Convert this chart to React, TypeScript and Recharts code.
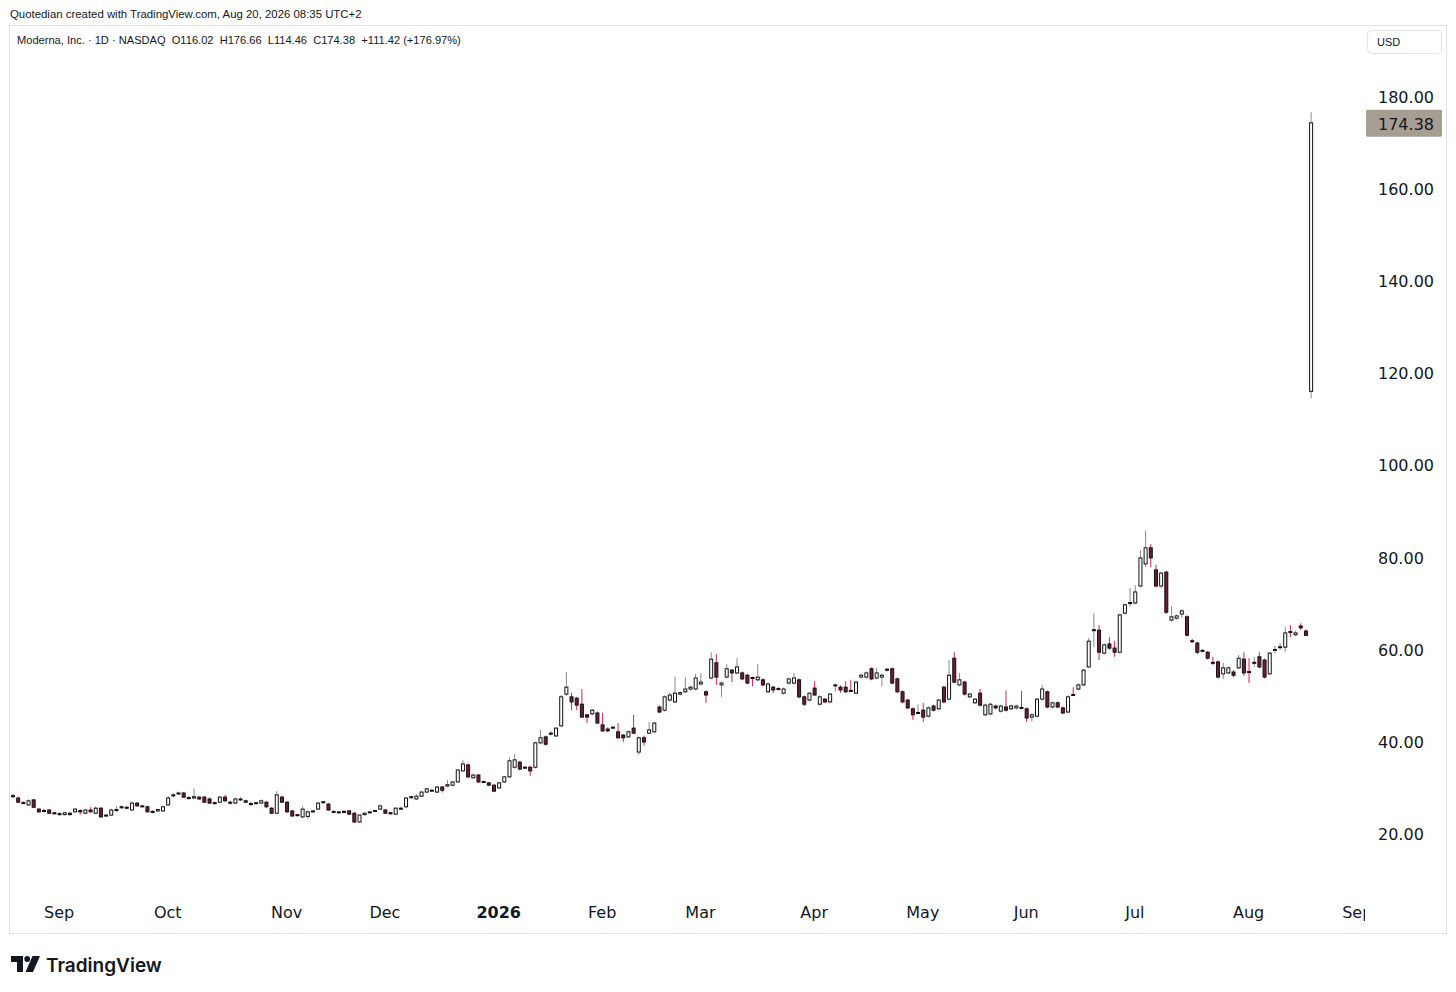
import React from 'react';
import { BarChart, Bar, XAxis, YAxis } from 'recharts';

// ---------- data ----------
const opens = [
  28.1, 27.6, 26.6, 26.1, 27.2, 25.2, 24.9, 25.0, 24.4, 24.2,
  24.0, 24.3, 24.6, 24.9, 24.3, 25.0, 24.3, 25.4, 23.8, 23.9,
  24.9, 25.5, 25.6, 25.0, 26.5, 25.9, 25.7, 24.7, 24.8, 24.8,
  26.1, 28.1, 28.5, 28.7, 27.7, 27.6, 27.8, 27.8, 27.4, 26.6,
  26.7, 27.8, 26.7, 26.5, 27.3, 27.0, 26.4, 26.4, 26.5, 26.7,
  25.4, 24.3, 27.8, 26.7, 24.8, 23.8, 23.5, 23.6, 24.7, 25.2,
  26.6, 26.3, 24.7, 24.5, 24.7, 24.8, 24.3, 22.4, 24.0, 24.4,
  24.7, 25.2, 25.0, 24.4, 24.1, 25.3, 25.7, 27.7, 27.4, 28.0,
  28.9, 29.2, 28.9, 30.0, 30.2, 30.4, 31.1, 33.5, 34.8, 32.0,
  32.6, 31.2, 30.9, 30.4, 29.8, 31.1, 32.2, 34.3, 35.4, 34.2,
  34.3, 34.3, 39.6, 40.9, 41.5, 41.1, 43.3, 50.2, 49.6, 49.3,
  48.0, 45.7, 45.9, 46.1, 43.5, 42.6, 42.9, 42.0, 41.3, 40.9,
  42.8, 37.6, 40.7, 41.7, 42.0, 47.4, 46.7, 48.9, 48.5, 50.2,
  50.7, 51.3, 51.3, 52.4, 50.7, 53.7, 57.0, 52.2, 53.9, 55.4,
  54.8, 54.8, 54.3, 53.8, 53.3, 53.3, 50.7, 51.7, 51.4, 50.4,
  52.6, 52.6, 53.3, 49.6, 48.9, 51.5, 48.0, 49.1, 48.5, 52.1,
  51.7, 51.7, 51.0, 50.4, 53.9, 53.9, 55.7, 53.7, 53.9, 55.4,
  55.7, 53.5, 50.7, 48.9, 47.0, 46.0, 46.7, 45.4, 47.6, 47.0,
  51.7, 49.1, 58.0, 52.2, 52.8, 49.6, 48.3, 50.4, 45.7, 45.9,
  47.6, 46.5, 47.4, 47.0, 47.2, 47.3, 47.0, 45.2, 45.4, 49.1,
  50.7, 47.4, 48.3, 47.2, 46.3, 50.1, 51.3, 52.2, 56.1, 64.0,
  64.1, 59.1, 61.1, 60.2, 59.3, 67.8, 69.9, 70.0, 73.7, 78.5,
  82.0, 77.2, 73.7, 76.7, 66.3, 66.7, 67.6, 67.0, 61.8, 61.3,
  59.7, 59.3, 57.1, 57.2, 54.6, 54.8, 55.0, 55.9, 57.8, 55.1,
  56.9, 58.3, 57.6, 54.6, 59.7, 60.3, 60.4, 63.8, 63.1, 65.0,
  63.9, 116.02,
];
const highs = [
  28.5, 27.9, 26.9, 27.3, 27.4, 25.4, 25.2, 25.2, 24.6, 24.5,
  24.6, 24.5, 25.4, 25.1, 25.2, 25.6, 25.8, 25.6, 24.1, 25.3,
  25.9, 26.0, 25.8, 26.9, 26.7, 26.1, 25.9, 24.9, 25.2, 25.9,
  28.0, 28.7, 29.0, 28.9, 28.0, 29.7, 28.0, 28.1, 27.7, 26.8,
  28.0, 28.3, 27.0, 27.7, 27.8, 27.2, 26.7, 26.8, 27.3, 26.9,
  25.6, 29.1, 28.1, 26.9, 25.0, 24.1, 25.8, 24.9, 25.0, 26.8,
  27.0, 26.5, 24.9, 24.8, 24.9, 25.0, 24.5, 24.0, 24.5, 24.8,
  25.0, 26.2, 25.2, 24.6, 25.6, 25.7, 27.8, 28.1, 28.4, 29.1,
  29.8, 29.6, 30.2, 30.2, 31.5, 31.3, 33.9, 35.9, 35.1, 32.9,
  32.8, 31.4, 31.1, 30.6, 31.1, 32.4, 36.4, 37.2, 35.7, 34.6,
  34.6, 39.9, 42.4, 41.2, 42.2, 43.1, 50.0, 55.0, 50.5, 49.6,
  51.3, 45.9, 47.0, 46.4, 46.1, 43.0, 43.3, 43.9, 41.5, 42.3,
  45.7, 41.0, 41.2, 44.1, 44.2, 47.7, 49.9, 50.5, 54.0, 50.8,
  53.9, 52.0, 54.6, 54.8, 51.0, 59.3, 58.9, 52.9, 56.7, 55.7,
  58.0, 55.1, 54.6, 54.0, 56.7, 53.6, 52.7, 52.0, 51.7, 51.6,
  53.8, 54.8, 53.6, 49.9, 50.7, 53.0, 49.9, 49.4, 50.5, 52.5,
  52.1, 53.0, 53.3, 53.1, 54.6, 55.1, 56.0, 55.9, 54.6, 55.9,
  56.0, 53.8, 51.0, 49.2, 47.3, 48.0, 48.3, 47.5, 47.9, 49.2,
  52.0, 57.6, 59.3, 54.8, 53.1, 50.5, 49.4, 51.3, 48.1, 48.3,
  47.9, 47.9, 51.0, 47.9, 47.9, 50.9, 47.3, 46.0, 49.4, 52.2,
  51.0, 48.6, 48.6, 47.5, 49.9, 51.7, 52.5, 55.7, 62.4, 67.8,
  65.2, 61.2, 62.6, 61.7, 67.7, 69.9, 73.3, 73.9, 81.5, 85.7,
  82.8, 78.3, 76.8, 77.0, 69.3, 67.5, 68.6, 67.3, 62.2, 61.6,
  60.0, 59.6, 58.3, 57.5, 57.0, 56.2, 55.4, 58.7, 59.3, 58.0,
  58.3, 59.3, 57.9, 59.4, 60.7, 61.3, 64.8, 65.2, 64.0, 65.6,
  64.3, 176.66,
];
const lows = [
  27.7, 26.5, 26.3, 25.9, 25.5, 24.4, 24.5, 24.2, 24.0, 23.8,
  23.8, 23.8, 24.4, 24.0, 24.1, 24.5, 24.1, 23.4, 23.5, 23.7,
  24.6, 25.3, 25.2, 24.9, 25.7, 25.6, 24.5, 24.3, 24.6, 24.6,
  25.9, 27.6, 28.3, 27.6, 27.3, 27.4, 27.2, 26.6, 26.3, 26.2,
  26.5, 26.8, 26.2, 26.3, 27.0, 26.5, 26.0, 26.2, 26.3, 25.5,
  24.2, 24.1, 26.5, 24.4, 23.5, 23.5, 23.3, 23.1, 24.5, 25.0,
  26.4, 24.9, 24.4, 24.3, 24.3, 24.0, 22.2, 22.2, 23.8, 24.2,
  24.5, 25.0, 24.2, 24.0, 23.9, 25.0, 25.5, 27.4, 27.2, 27.8,
  28.7, 29.0, 28.7, 28.8, 30.0, 30.2, 30.9, 33.3, 32.0, 31.8,
  30.9, 30.9, 30.2, 28.9, 29.6, 30.9, 32.0, 34.0, 33.6, 34.0,
  32.4, 34.0, 39.3, 39.0, 41.2, 40.9, 43.0, 49.8, 46.7, 46.7,
  45.0, 43.9, 45.6, 43.7, 42.0, 41.9, 42.6, 40.5, 39.8, 40.7,
  41.5, 37.0, 39.0, 41.5, 41.8, 46.0, 46.4, 48.6, 48.2, 49.9,
  50.4, 51.0, 51.0, 52.1, 48.3, 53.4, 52.2, 49.6, 53.6, 52.8,
  54.5, 53.2, 52.3, 51.9, 53.0, 51.9, 50.4, 50.4, 51.0, 50.1,
  52.3, 52.3, 49.3, 47.6, 48.6, 49.8, 47.7, 48.2, 48.2, 50.7,
  50.5, 50.4, 50.6, 50.1, 53.6, 53.6, 53.2, 53.4, 51.9, 55.1,
  52.3, 50.4, 48.2, 46.9, 44.6, 45.8, 44.1, 45.1, 46.4, 46.7,
  48.2, 48.8, 52.5, 51.9, 49.9, 49.3, 48.0, 47.5, 45.4, 45.6,
  46.9, 46.2, 46.4, 46.7, 46.9, 46.9, 44.1, 44.2, 45.1, 48.8,
  47.1, 47.1, 47.1, 45.8, 46.0, 49.8, 51.0, 51.9, 55.8, 60.4,
  57.6, 58.8, 59.8, 58.3, 59.0, 67.5, 69.3, 69.7, 73.4, 77.8,
  77.8, 73.4, 73.2, 67.6, 66.0, 66.4, 66.8, 62.7, 61.3, 58.9,
  59.3, 57.7, 56.5, 53.6, 53.5, 54.5, 53.9, 55.6, 54.1, 52.6,
  56.1, 55.8, 53.6, 54.3, 59.1, 59.8, 59.3, 62.6, 62.8, 64.1,
  62.8, 114.46,
];
const closes = [
  27.9, 26.7, 26.4, 27.0, 25.6, 24.6, 24.7, 24.3, 24.3, 24.1,
  24.4, 24.0, 25.2, 24.6, 25.0, 24.6, 25.4, 23.5, 23.9, 25.0,
  25.1, 25.7, 25.4, 26.5, 25.9, 25.8, 24.6, 24.5, 25.1, 25.7,
  27.6, 28.3, 28.7, 27.8, 27.6, 27.9, 27.4, 26.7, 26.5, 26.4,
  27.8, 27.0, 26.5, 27.4, 27.4, 26.7, 26.2, 26.6, 27.0, 25.7,
  24.3, 28.3, 26.7, 24.6, 23.7, 24.0, 25.2, 24.6, 24.8, 26.5,
  26.8, 25.0, 24.6, 24.6, 24.5, 24.1, 22.4, 23.9, 24.3, 24.6,
  24.9, 25.9, 24.3, 24.3, 25.4, 25.4, 27.6, 27.9, 28.0, 28.9,
  29.6, 29.3, 30.0, 29.3, 30.5, 31.1, 33.7, 35.0, 32.2, 32.6,
  31.1, 31.1, 30.4, 29.1, 30.9, 32.2, 35.7, 35.9, 33.9, 34.3,
  33.5, 39.6, 40.7, 39.3, 41.7, 42.8, 49.6, 51.7, 48.5, 47.8,
  45.2, 45.2, 46.7, 43.9, 42.2, 42.2, 43.0, 40.7, 40.7, 42.0,
  41.7, 40.7, 39.8, 42.4, 43.9, 46.3, 49.6, 50.0, 50.4, 50.5,
  51.3, 51.7, 53.7, 52.8, 50.0, 57.8, 53.9, 52.6, 55.7, 54.8,
  56.1, 53.5, 52.6, 53.7, 53.9, 52.2, 52.4, 51.1, 51.2, 51.3,
  53.5, 53.7, 49.6, 48.0, 50.4, 50.0, 49.6, 48.5, 50.2, 52.2,
  51.1, 50.7, 50.8, 52.8, 54.3, 54.8, 53.5, 54.8, 54.3, 55.6,
  52.6, 50.7, 48.5, 47.2, 45.7, 46.2, 45.2, 47.2, 46.7, 48.9,
  48.5, 54.3, 52.8, 53.3, 50.2, 50.2, 49.1, 47.8, 47.8, 48.0,
  47.2, 47.6, 46.7, 47.6, 47.6, 47.1, 45.0, 45.7, 49.1, 51.3,
  47.4, 48.3, 47.4, 46.1, 49.6, 49.9, 52.2, 55.4, 61.7, 64.2,
  59.3, 60.9, 60.2, 59.3, 67.4, 69.6, 70.1, 72.4, 79.8, 82.0,
  79.8, 73.7, 76.5, 68.0, 67.0, 67.2, 68.3, 63.0, 61.6, 59.3,
  59.5, 58.0, 56.9, 53.9, 55.9, 55.9, 54.3, 58.0, 54.8, 54.9,
  57.1, 56.1, 53.9, 59.1, 59.9, 60.5, 63.5, 63.6, 63.5, 64.6,
  62.96, 174.38,
];

// time-axis labels: bar slot index of the first session of each month
const monthTickIndex = [9, 30, 53, 72, 94, 114, 133, 155, 176, 196, 217, 239, 260];
const monthTickLabel = ['Sep', 'Oct', 'Nov', 'Dec', '2026', 'Feb', 'Mar', 'Apr', 'May', 'Jun', 'Jul', 'Aug', 'Sep'];
const priceTicks = [20, 40, 60, 80, 100, 120, 140, 160, 180];
const futureSlots = 10; // empty space to the right of the last bar
const priceDomain = [6.96, 195.43];

const headerText = 'Quotedian created with TradingView.com, Aug 20, 2026 08:35 UTC+2';
const legendName = 'Moderna, Inc. · 1D · NASDAQ';

// ---------- derived ----------
const N = closes.length;
const lastClose = closes[N - 1];
const prevClose = closes[N - 2];
const chg = lastClose - prevClose;
const chgPct = (chg / prevClose) * 100;

const data: any[] = [];
for (let i = 0; i < N + futureSlots; i++) {
  if (i < N) {
    data.push({ i, range: [lows[i], highs[i]], o: opens[i], h: highs[i], l: lows[i], c: closes[i] });
  } else {
    data.push({ i, range: null, o: null, h: null, l: null, c: null });
  }
}

// ---------- layout / style ----------
const W = 1456;
const H = 992;
const PLOT_TOP = 26;
const PLOT_LEFT = 10;
const PLOT_RIGHT = 1365;
const PLOT_BOTTOM = 893;
const YAXIS_W = 81;
const XAXIS_H = 41;
const TEXT = '#131722';
const AXIS_FONT = '"DejaVu Sans", sans-serif';
const UI_FONT = '"Liberation Sans", Arial, sans-serif';
const UP_FILL = '#ffffff';
const UP_WICK = '#8a8a8a';
const DOWN_FILL = '#701c2c';
const DOWN_WICK = '#d0245c';
const BORDER = '#111111';

const Candle = (props: any) => {
  const { x, y, width, height } = props;
  const p = props.payload || props;
  if (!p || p.o == null || x == null || y == null) return null;
  const { o, h, l, c } = p;
  const top = Math.min(y, y + height);
  const bot = Math.max(y, y + height);
  const span = h - l;
  const py = (v: number) => (span === 0 ? top : top + ((h - v) / span) * (bot - top));
  const cx = x + width / 2;
  const up = c >= o;
  const bTop = py(Math.max(o, c));
  const bBot = py(Math.min(o, c));
  const bh = Math.max(bBot - bTop, 1);
  return (
    <g>
      <line x1={cx} x2={cx} y1={top} y2={bot} stroke={up ? UP_WICK : DOWN_WICK} strokeWidth={1} />
      <rect
        x={cx - 1.5}
        y={bTop}
        width={3}
        height={bh}
        fill={up ? UP_FILL : DOWN_FILL}
        stroke={BORDER}
        strokeWidth={1}
      />
    </g>
  );
};

const PriceTick = (props: any) => {
  const { x, y, payload } = props;
  const v = payload.value;
  if (v === lastClose) {
    return (
      <g>
        <rect x={x + 1} y={y - 13} width={76} height={27} fill="#a69d93" rx={1.5} />
        <text x={x + 13} y={y + 1.5} dominantBaseline="central" fill={TEXT} fontSize={16} fontFamily={AXIS_FONT}>
          {v.toFixed(2)}
        </text>
      </g>
    );
  }
  return (
    <text x={x + 13} y={y + 1} dominantBaseline="central" fill={TEXT} fontSize={16} fontFamily={AXIS_FONT}>
      {v.toFixed(2)}
    </text>
  );
};

const MonthTick = (props: any) => {
  const { x, y, payload } = props;
  const k = monthTickIndex.indexOf(payload.value);
  if (k < 0) return <g />;
  const label = monthTickLabel[k];
  const cid = `mclip${k}`;
  return (
    <g>
      <defs>
        <clipPath id={cid}>
          <rect x={0} y={0} width={PLOT_RIGHT} height={H} />
        </clipPath>
      </defs>
      <text
        x={x}
        y={y + 19}
        textAnchor="middle"
        dominantBaseline="central"
        fill={TEXT}
        fontSize={16}
        fontWeight={label === '2026' ? 700 : 400}
        fontFamily={AXIS_FONT}
        clipPath={`url(#${cid})`}
      >
        {label}
      </text>
    </g>
  );
};

export default function App() {
  const legendValues = `O${opens[N - 1].toFixed(2)}  H${highs[N - 1].toFixed(2)}  L${lows[N - 1].toFixed(2)}  C${lastClose.toFixed(2)}  +${chg.toFixed(2)} (+${chgPct.toFixed(2)}%)`;
  return (
    <div style={{ position: 'absolute', left: 0, top: 0, width: W, height: H, background: '#ffffff', overflow: 'hidden' }}>
      <div style={{ position: 'absolute', left: 0, top: 0 }}>
        <BarChart
          width={W}
          height={H}
          data={data}
          margin={{ top: PLOT_TOP, left: PLOT_LEFT, right: W - PLOT_RIGHT - YAXIS_W, bottom: H - PLOT_BOTTOM - XAXIS_H }}
          barCategoryGap={0}
        >
          <XAxis
            dataKey="i"
            type="category"
            interval={0}
            height={XAXIS_H}
            tickLine={false}
            axisLine={false}
            tickSize={0}
            tickMargin={0}
            tick={<MonthTick />}
          />
          <YAxis
            orientation="right"
            width={YAXIS_W}
            domain={priceDomain}
            allowDataOverflow
            ticks={[...priceTicks, lastClose]}
            interval={0}
            tickLine={false}
            axisLine={false}
            tickSize={0}
            tickMargin={0}
            tick={<PriceTick />}
          />
          <Bar dataKey="range" barSize={4} shape={<Candle />} isAnimationActive={false} />
        </BarChart>
      </div>
      <svg width={W} height={H} style={{ position: 'absolute', left: 0, top: 0, pointerEvents: 'none' }}>
        <rect x={9.5} y={25.5} width={1437} height={908} fill="none" stroke="#e0e3eb" strokeWidth={1} />
        <text x={10} y={18} fill={TEXT} fontSize={11.4} fontFamily={UI_FONT}>
          {headerText}
        </text>
        <text x={17} y={44} fill={TEXT} fontSize={11.1} fontFamily={UI_FONT} style={{ whiteSpace: 'pre' }}>
          {`${legendName}  ${legendValues}`}
        </text>
        <rect x={1367.5} y={30.5} width={74} height={23} rx={4} fill="#ffffff" stroke="#e0e3eb" />
        <text x={1377} y={46} fill={TEXT} fontSize={11} fontFamily={UI_FONT}>
          USD
        </text>
        <g transform="translate(11,956)" fill={TEXT}>
          <path d="M0 0 H12 V16 H6 V6 H0 Z" />
          <circle cx={16.2} cy={3} r={2.9} />
          <path d="M21.5 0 H29 L22 16 H14.5 Z" />
        </g>
        <text x={46} y={972} fill={TEXT} fontSize={19} fontWeight={600} fontFamily='Inter, "Noto Sans", sans-serif'>
          TradingView
        </text>
      </svg>
    </div>
  );
}
